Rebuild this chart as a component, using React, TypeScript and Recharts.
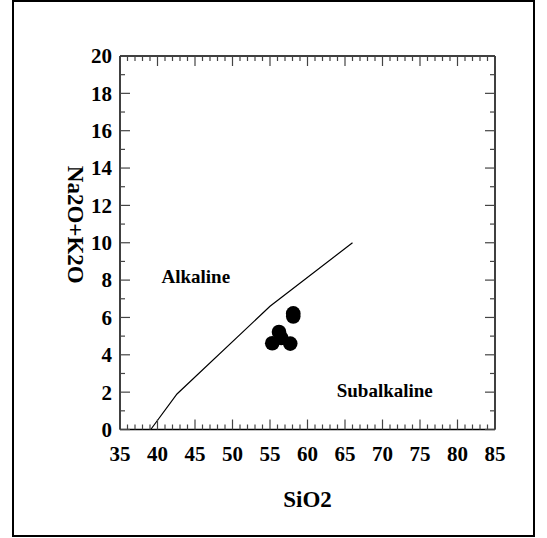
import React from 'react';
import { ScatterChart, Scatter, XAxis, YAxis } from 'recharts';

const xMajorTicks = [35, 40, 45, 50, 55, 60, 65, 70, 75, 80, 85];
const yMajorTicks = [0, 2, 4, 6, 8, 10, 12, 14, 16, 18, 20];
const xAllTicks = Array.from({ length: 51 }, (_, i) => 35 + i);
const yAllTicks = Array.from({ length: 21 }, (_, i) => i);

const boundaryX = [39.1, 42.6, 55, 66];
const boundaryY = [0, 1.9, 6.6, 10];
const boundary = boundaryX.map((x, i) => ({ x, y: boundaryY[i] }));

const sampleSiO2 = [58.1, 58.1, 56.2, 55.3, 57.7, 56.5];
const sampleAlk = [6.22, 6.05, 5.22, 4.62, 4.6, 4.9];
const samples = sampleSiO2.map((x, i) => ({ x, y: sampleAlk[i] }));

const fieldNames = ['Alkaline', 'Subalkaline'];
const fieldX = [45.1, 70.3];
const fieldY = [8.17, 2.08];
const fields = fieldNames.map((t, i) => ({ x: fieldX[i], y: fieldY[i], text: t }));

const FONT = '"Liberation Serif", "Times New Roman", serif';
const TICK_COLOR = '#444';

const BottomTick = (p: any) => {
  const { x, y, payload } = p;
  const v = payload.value;
  const major = xMajorTicks.includes(v);
  return (
    <g>
      <line x1={x} y1={y} x2={x} y2={y - (major ? 10 : 5)} stroke={TICK_COLOR} strokeWidth={1.2} />
      {major && (
        <text x={x} y={y + 31} textAnchor="middle" fontFamily={FONT} fontWeight="bold" fontSize={21} fill="#000">
          {v}
        </text>
      )}
    </g>
  );
};

const TopTick = (p: any) => {
  const { x, y, payload } = p;
  const major = xMajorTicks.includes(payload.value);
  return <line x1={x} y1={y} x2={x} y2={y + (major ? 10 : 5)} stroke={TICK_COLOR} strokeWidth={1.2} />;
};

const LeftTick = (p: any) => {
  const { x, y, payload } = p;
  const v = payload.value;
  const major = yMajorTicks.includes(v);
  return (
    <g>
      <line x1={x} y1={y} x2={x + (major ? 10 : 5)} y2={y} stroke={TICK_COLOR} strokeWidth={1.2} />
      {major && (
        <text x={x - 8} y={y} dy="0.35em" textAnchor="end" fontFamily={FONT} fontWeight="bold" fontSize={21} fill="#000">
          {v}
        </text>
      )}
    </g>
  );
};

const RightTick = (p: any) => {
  const { x, y, payload } = p;
  const major = yMajorTicks.includes(payload.value);
  return <line x1={x} y1={y} x2={x - (major ? 10 : 5)} y2={y} stroke={TICK_COLOR} strokeWidth={1.2} />;
};

const axisLine = { stroke: '#000', strokeWidth: 1.5 };

export default function App() {
  return (
    <div style={{ position: 'absolute', left: 0, top: 0, width: 547, height: 538, background: '#fff' }}>
      <div
        style={{
          position: 'absolute',
          left: 12,
          top: 0,
          width: 523,
          height: 537,
          boxSizing: 'border-box',
          border: '2.5px solid #000',
        }}
      />
      <div style={{ position: 'absolute', left: 0, top: 0 }}>
        <ScatterChart width={547} height={538} margin={{ top: 46, right: 42, bottom: 78.5, left: 110 }}>
          <XAxis
            xAxisId={0}
            type="number"
            dataKey="x"
            domain={[35, 85]}
            ticks={xAllTicks}
            interval={0}
            height={30}
            tickSize={0}
            tickMargin={0}
            axisLine={axisLine}
            tickLine={false}
            tick={BottomTick}
            allowDataOverflow
            label={{
              content: (lp: any) => {
                const vb = lp.viewBox || {};
                return (
                  <text
                    x={vb.x + vb.width / 2}
                    y={vb.y + 77}
                    textAnchor="middle"
                    fontFamily={FONT}
                    fontWeight="bold"
                    fontSize={23}
                    fill="#000"
                  >
                    SiO2
                  </text>
                );
              },
            }}
          />
          <XAxis
            xAxisId="top"
            orientation="top"
            type="number"
            dataKey="x"
            domain={[35, 85]}
            ticks={xAllTicks}
            interval={0}
            height={10}
            tickSize={0}
            tickMargin={0}
            axisLine={axisLine}
            tickLine={false}
            tick={TopTick}
            allowDataOverflow
          />
          <YAxis
            yAxisId={0}
            type="number"
            dataKey="y"
            domain={[0, 20]}
            ticks={yAllTicks}
            interval={0}
            width={10}
            tickSize={0}
            tickMargin={0}
            axisLine={axisLine}
            tickLine={false}
            tick={LeftTick}
            allowDataOverflow
            label={{
              content: (lp: any) => {
                const vb = lp.viewBox || {};
                const cx = vb.x + vb.width - 45;
                const cy = vb.y + vb.height / 2 - 18;
                return (
                  <text
                    transform={`translate(${cx},${cy}) rotate(90)`}
                    textAnchor="middle"
                    dominantBaseline="central"
                    fontFamily={FONT}
                    fontWeight="bold"
                    fontSize={23}
                    fill="#000"
                  >
                    Na2O+K2O
                  </text>
                );
              },
            }}
          />
          <YAxis
            yAxisId="right"
            orientation="right"
            type="number"
            dataKey="y"
            domain={[0, 20]}
            ticks={yAllTicks}
            interval={0}
            width={10}
            tickSize={0}
            tickMargin={0}
            axisLine={axisLine}
            tickLine={false}
            tick={RightTick}
            allowDataOverflow
          />
          <Scatter
            data={boundary}
            line={{ stroke: '#000', strokeWidth: 1.2 }}
            shape={() => <g />}
            isAnimationActive={false}
          />
          <Scatter
            data={samples}
            fill="#000"
            shape={(p: any) => <circle cx={p.cx} cy={p.cy} r={7.3} fill="#000" />}
            isAnimationActive={false}
          />
          <Scatter
            data={fields}
            shape={(p: any) => (
              <text
                x={p.cx}
                y={p.cy}
                dy="0.33em"
                textAnchor="middle"
                fontFamily={FONT}
                fontWeight="bold"
                fontSize={19}
                fill="#000"
              >
                {(p.payload && p.payload.text) || p.text}
              </text>
            )}
            isAnimationActive={false}
          />
        </ScatterChart>
      </div>
    </div>
  );
}
